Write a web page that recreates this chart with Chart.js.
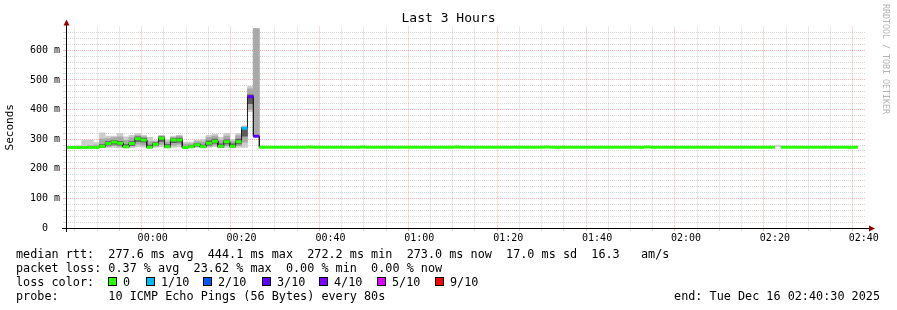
<!DOCTYPE html>
<html>
<head>
<meta charset="utf-8">
<script src="https://cdn.jsdelivr.net/npm/chart.js@4.4.1/dist/chart.umd.min.js"></script>
<style>
  body { margin: 0; background: #fff; }
  #wrap { position: relative; width: 897px; height: 310px; font-family: 'DejaVu Sans Mono', monospace; color: #000; }
  #chart { position: absolute; left: 0; top: 0; }
  .row { position: absolute; left: 16px; font-size: 11.8px; line-height: 14px; white-space: pre; }
  .box { position: absolute; top: 277px; width: 7px; height: 7px; border: 1px solid #000; }
  .lbl { position: absolute; top: 275px; font-size: 11.8px; line-height: 14px; white-space: pre; }
  #end { position: absolute; right: 17px; top: 289px; font-size: 11.8px; line-height: 14px; white-space: pre; }
  #credit { position: absolute; left: 881px; top: 4px; writing-mode: vertical-rl; font-size: 8.3px; line-height: 10px; color: #b4b4b4; }
</style>
</head>
<body>
<div id="wrap">
  <canvas id="chart" width="897" height="310"></canvas>
  <div id="credit">RRDTOOL / TOBI OETIKER</div>
  <div class="row" style="top:247px">median rtt:  277.6 ms avg  444.1 ms max  272.2 ms min  273.0 ms now  17.0 ms sd  16.3   am/s</div>
  <div class="row" style="top:261px">packet loss: 0.37 % avg  23.62 % max  0.00 % min  0.00 % now</div>
  <div class="row" style="top:275px">loss color:</div>
  <div id="legend"></div>
  <div class="row" style="top:289px">probe:       10 ICMP Echo Pings (56 Bytes) every 80s</div>
  <div id="end">end: Tue Dec 16 02:40:30 2025</div>
</div>
<script>
// one step = 80 s, times in minutes relative to 00:00
const stepMinutes = 80 / 60;
const firstStep = -20; // 23:40:00

// median rtt per step (ms)
const medianRtt = [
  272, 272, 272, 272, 272, 272, 276, 285, 290, 286, 274, 285, 301, 297, 273, 283, 303,
  274, 297, 297, 272, 274, 281, 274, 286, 293, 276, 291, 276, 291, 337, 443, 310,
  272.5, 272.8, 273, 273, 273, 272.8, 273, 273, 273.2, 273,
  273, 273, 272.8, 273, 273, 273, 273, 273.2, 273, 273,
  273, 272.8, 273, 273, 273, 273, 273, 273, 273, 272.8,
  273, 273, 273, 273.2, 273, 273, 273, 273, 273, 273,
  272.8, 273, 273, 273, 273, 273, 273, 273, 273.2, 273,
  273, 273, 273, 273, 272.8, 273, 273, 273, 273, 273,
  273, 273, 273, 273, 273, 273.2, 273, 273, 273, 273,
  273, 273, 272.8, 273, 273, 273, 273, 273, 273, 273,
  273, 273, 273, 273, 273, 273, 273, null, 273, 273,
  273, 273, 273, 273, 273, 273, 273, 273, 273, 273,
  273
];

// loss level per step (index into lossColors), only the spike lost packets
const lossLevel = medianRtt.map(() => 0);
lossLevel[30] = 1;
lossLevel[31] = 3;
lossLevel[32] = 3;

const lossLabels = ['0', '1/10', '2/10', '3/10', '4/10', '5/10', '9/10'];
const lossColors = ['#26ff00', '#00b8ff', '#0059ff', '#5e00ff', '#7e00ff', '#dd00ff', '#ff0000'];

// smoke (ping spread) for the first 33 steps
const outerLo = [null, 271, 271, 271, 271, 271, 270, 272, 272, 271, 270, 271, 275, 273, 270, 272, 275, 270, 272, 274, 270, 271, 272, 271, 272, 275, 271, 272, 271, 272, 272, 393, 310];
const outerHi = [null, 274, 278, 297, 297, 288, 321, 310, 310, 320, 308, 313, 320, 313, 306, 295, 313, 298, 310, 313, 290, 290, 297, 299, 313, 317, 306, 320, 299, 320, 345, 478, 673];
const midLo = [null, null, null, 271, 271, 271, 272, 275, 278, 276, 271, 276, 283, 280, 271, 276, 282, 271, 280, 283, 271, 272, 275, 272, 276, 280, 272, 278, 273, 278, 290, 400, 310];
const midHi = [null, null, null, 276, 278, 280, 300, 302, 305, 308, 296, 305, 312, 308, 292, 292, 310, 290, 306, 310, 283, 284, 292, 290, 306, 310, 296, 310, 292, 312, 340, 470, 673];
const coreLo = [null, null, null, null, null, null, 273, 280, 283, 280, 272, 279, 292, 290, 271, 279, 292, 272, 288, 290, 271, 272, 277, 272, 280, 286, 273, 284, 274, 284, 310, 420, null];
const coreHi = [null, null, null, null, null, null, 282, 292, 296, 293, 282, 292, 308, 304, 280, 288, 308, 282, 302, 304, 276, 278, 286, 280, 294, 300, 284, 298, 284, 300, 340, 450, null];
// the one step near 02:20 without a median
const quietSteps = [120];
const quietLo = [275];
const quietHi = [278];

const xLabelMinutes = [0, 20, 40, 60, 80, 100, 120, 140, 160];
const xTickLabels = ['00:00', '00:20', '00:40', '01:00', '01:20', '01:40', '02:00', '02:20', '02:40'];
const yLabelValues = [0, 100, 200, 300, 400, 500, 600];
const yTickLabels = ['0  ', '100 m', '200 m', '300 m', '400 m', '500 m', '600 m'];

const stepTimes = medianRtt.map((_, i) => firstStep + i * stepMinutes);

function smokeBars(lo, hi) {
  const out = [];
  lo.forEach((l, i) => {
    if (l == null || hi[i] == null) return;
    out.push({ x: stepTimes[i] + stepMinutes / 2, y: [l, hi[i]] });
  });
  return out;
}

const outerBars = smokeBars(outerLo, outerHi);
quietSteps.forEach((s, k) => outerBars.push({ x: stepTimes[s] + stepMinutes / 2, y: [quietLo[k], quietHi[k]] }));

// each step becomes a flat piece: start point and end point
const medianPts = [];
medianRtt.forEach((v, i) => {
  if (v == null) {
    medianPts.push({ x: stepTimes[i], y: null, s: i });
    return;
  }
  medianPts.push({ x: stepTimes[i], y: v, s: i });
  medianPts.push({ x: stepTimes[i] + stepMinutes, y: v, s: i });
});

const majorGrid = 'rgba(255,0,0,0.3)';
const minorGrid = 'rgba(140,140,140,0.36)';

function gridColor(list) {
  return c => (c.tick && list.includes(c.tick.value)) ? majorGrid : minorGrid;
}

const axisArrows = {
  id: 'axisArrows',
  afterDraw(chart) {
    const { ctx, chartArea: a } = chart;
    const y0 = Math.round(a.bottom) + 0.5;
    const x0 = Math.round(a.left) + 0.5;
    ctx.save();
    ctx.strokeStyle = '#000';
    ctx.lineWidth = 1;
    ctx.beginPath();
    ctx.moveTo(a.left - 4, y0);
    ctx.lineTo(a.right + 4, y0);
    ctx.moveTo(x0, a.bottom + 4);
    ctx.lineTo(x0, a.top - 2);
    ctx.stroke();
    ctx.fillStyle = '#990000';
    ctx.beginPath();
    ctx.moveTo(a.right + 3, y0 - 3);
    ctx.lineTo(a.right + 9, y0);
    ctx.lineTo(a.right + 3, y0 + 3);
    ctx.closePath();
    ctx.fill();
    ctx.beginPath();
    ctx.moveTo(x0 - 3, a.top - 1);
    ctx.lineTo(x0, a.top - 7);
    ctx.lineTo(x0 + 3, a.top - 1);
    ctx.closePath();
    ctx.fill();
    ctx.restore();
  }
};

Chart.defaults.font.family = "'DejaVu Sans Mono', monospace";
Chart.defaults.color = '#000';

const ctx = document.getElementById('chart').getContext('2d');
new Chart(ctx, {
  data: {
    datasets: [
      {
        type: 'line',
        label: 'median',
        data: medianPts,
        borderWidth: 3,
        pointRadius: 0,
        spanGaps: false,
        segment: {
          borderColor: c => {
            const a = medianPts[c.p0DataIndex];
            const b = medianPts[c.p1DataIndex];
            return a.s === b.s ? lossColors[lossLevel[a.s]] : 'rgba(0,0,0,0)';
          }
        },
        order: 0
      },
      {
        type: 'line',
        label: 'median line',
        data: medianPts,
        borderColor: '#1e1e1e',
        borderWidth: 1,
        pointRadius: 0,
        spanGaps: false,
        order: 1
      },
      { type: 'bar', label: 'core', data: smokeBars(coreLo, coreHi), backgroundColor: '#5c5c5c', grouped: false, barPercentage: 1, categoryPercentage: 1, order: 2 },
      { type: 'bar', label: 'mid', data: smokeBars(midLo, midHi), backgroundColor: '#a9a9a9', grouped: false, barPercentage: 1, categoryPercentage: 1, order: 3 },
      { type: 'bar', label: 'outer', data: outerBars, backgroundColor: '#cdcdcd', grouped: false, barPercentage: 1, categoryPercentage: 1, order: 4 }
    ]
  },
  options: {
    responsive: false,
    animation: false,
    layout: { padding: 0 },
    plugins: {
      legend: { display: false },
      tooltip: { enabled: false },
      title: {
        display: true,
        text: 'Last 3 Hours',
        color: '#000',
        font: { size: 13, weight: 'normal' },
        padding: { top: 11, bottom: 0 }
      }
    },
    scales: {
      x: {
        type: 'linear',
        offset: false,
        min: -19.5,
        max: 160.5,
        afterBuildTicks: s => {
          const t = [];
          for (let m = -15; m <= 160; m += 5) t.push({ value: m });
          s.ticks = t;
        },
        afterFit: s => { s.height = 82; },
        grid: {
          color: gridColor(xLabelMinutes),
          tickLength: 3
        },
        border: { display: false, dash: [1, 1] },
        ticks: {
          autoSkip: false,
          maxRotation: 0,
          padding: 1,
          font: { size: 10 },
          callback: v => {
            const k = xLabelMinutes.indexOf(v);
            return k >= 0 ? xTickLabels[k] : '';
          }
        }
      },
      y: {
        min: 0,
        max: 680,
        afterBuildTicks: s => {
          const t = [];
          for (let v = 0; v <= 660; v += 20) t.push({ value: v });
          s.ticks = t;
        },
        afterFit: s => { s.width = 66; },
        grid: {
          color: gridColor(yLabelValues),
          tickLength: 3
        },
        border: { display: false, dash: [1, 1] },
        title: { display: true, text: 'Seconds', font: { size: 11 }, padding: { top: 4, bottom: 0 } },
        ticks: {
          autoSkip: false,
          padding: 3,
          font: { size: 10 },
          callback: v => {
            const k = yLabelValues.indexOf(v);
            return k >= 0 ? yTickLabels[k] : '';
          }
        }
      },
      // empty right-hand strip, keeps the title centred on the whole image
      side: {
        position: 'right',
        afterFit: s => { s.width = 31; },
        grid: { display: false },
        border: { display: false },
        ticks: { display: false }
      }
    }
  },
  plugins: [axisArrows]
});

// loss colour legend
const legend = document.getElementById('legend');
const boxX = [108, 146, 203, 262, 319, 377, 435];
lossLabels.forEach((lab, i) => {
  const b = document.createElement('div');
  b.className = 'box';
  b.style.left = boxX[i] + 'px';
  b.style.background = lossColors[i];
  legend.appendChild(b);
  const t = document.createElement('div');
  t.className = 'lbl';
  t.style.left = (boxX[i] + 15) + 'px';
  t.textContent = lab;
  legend.appendChild(t);
});
</script>
</body>
</html>
